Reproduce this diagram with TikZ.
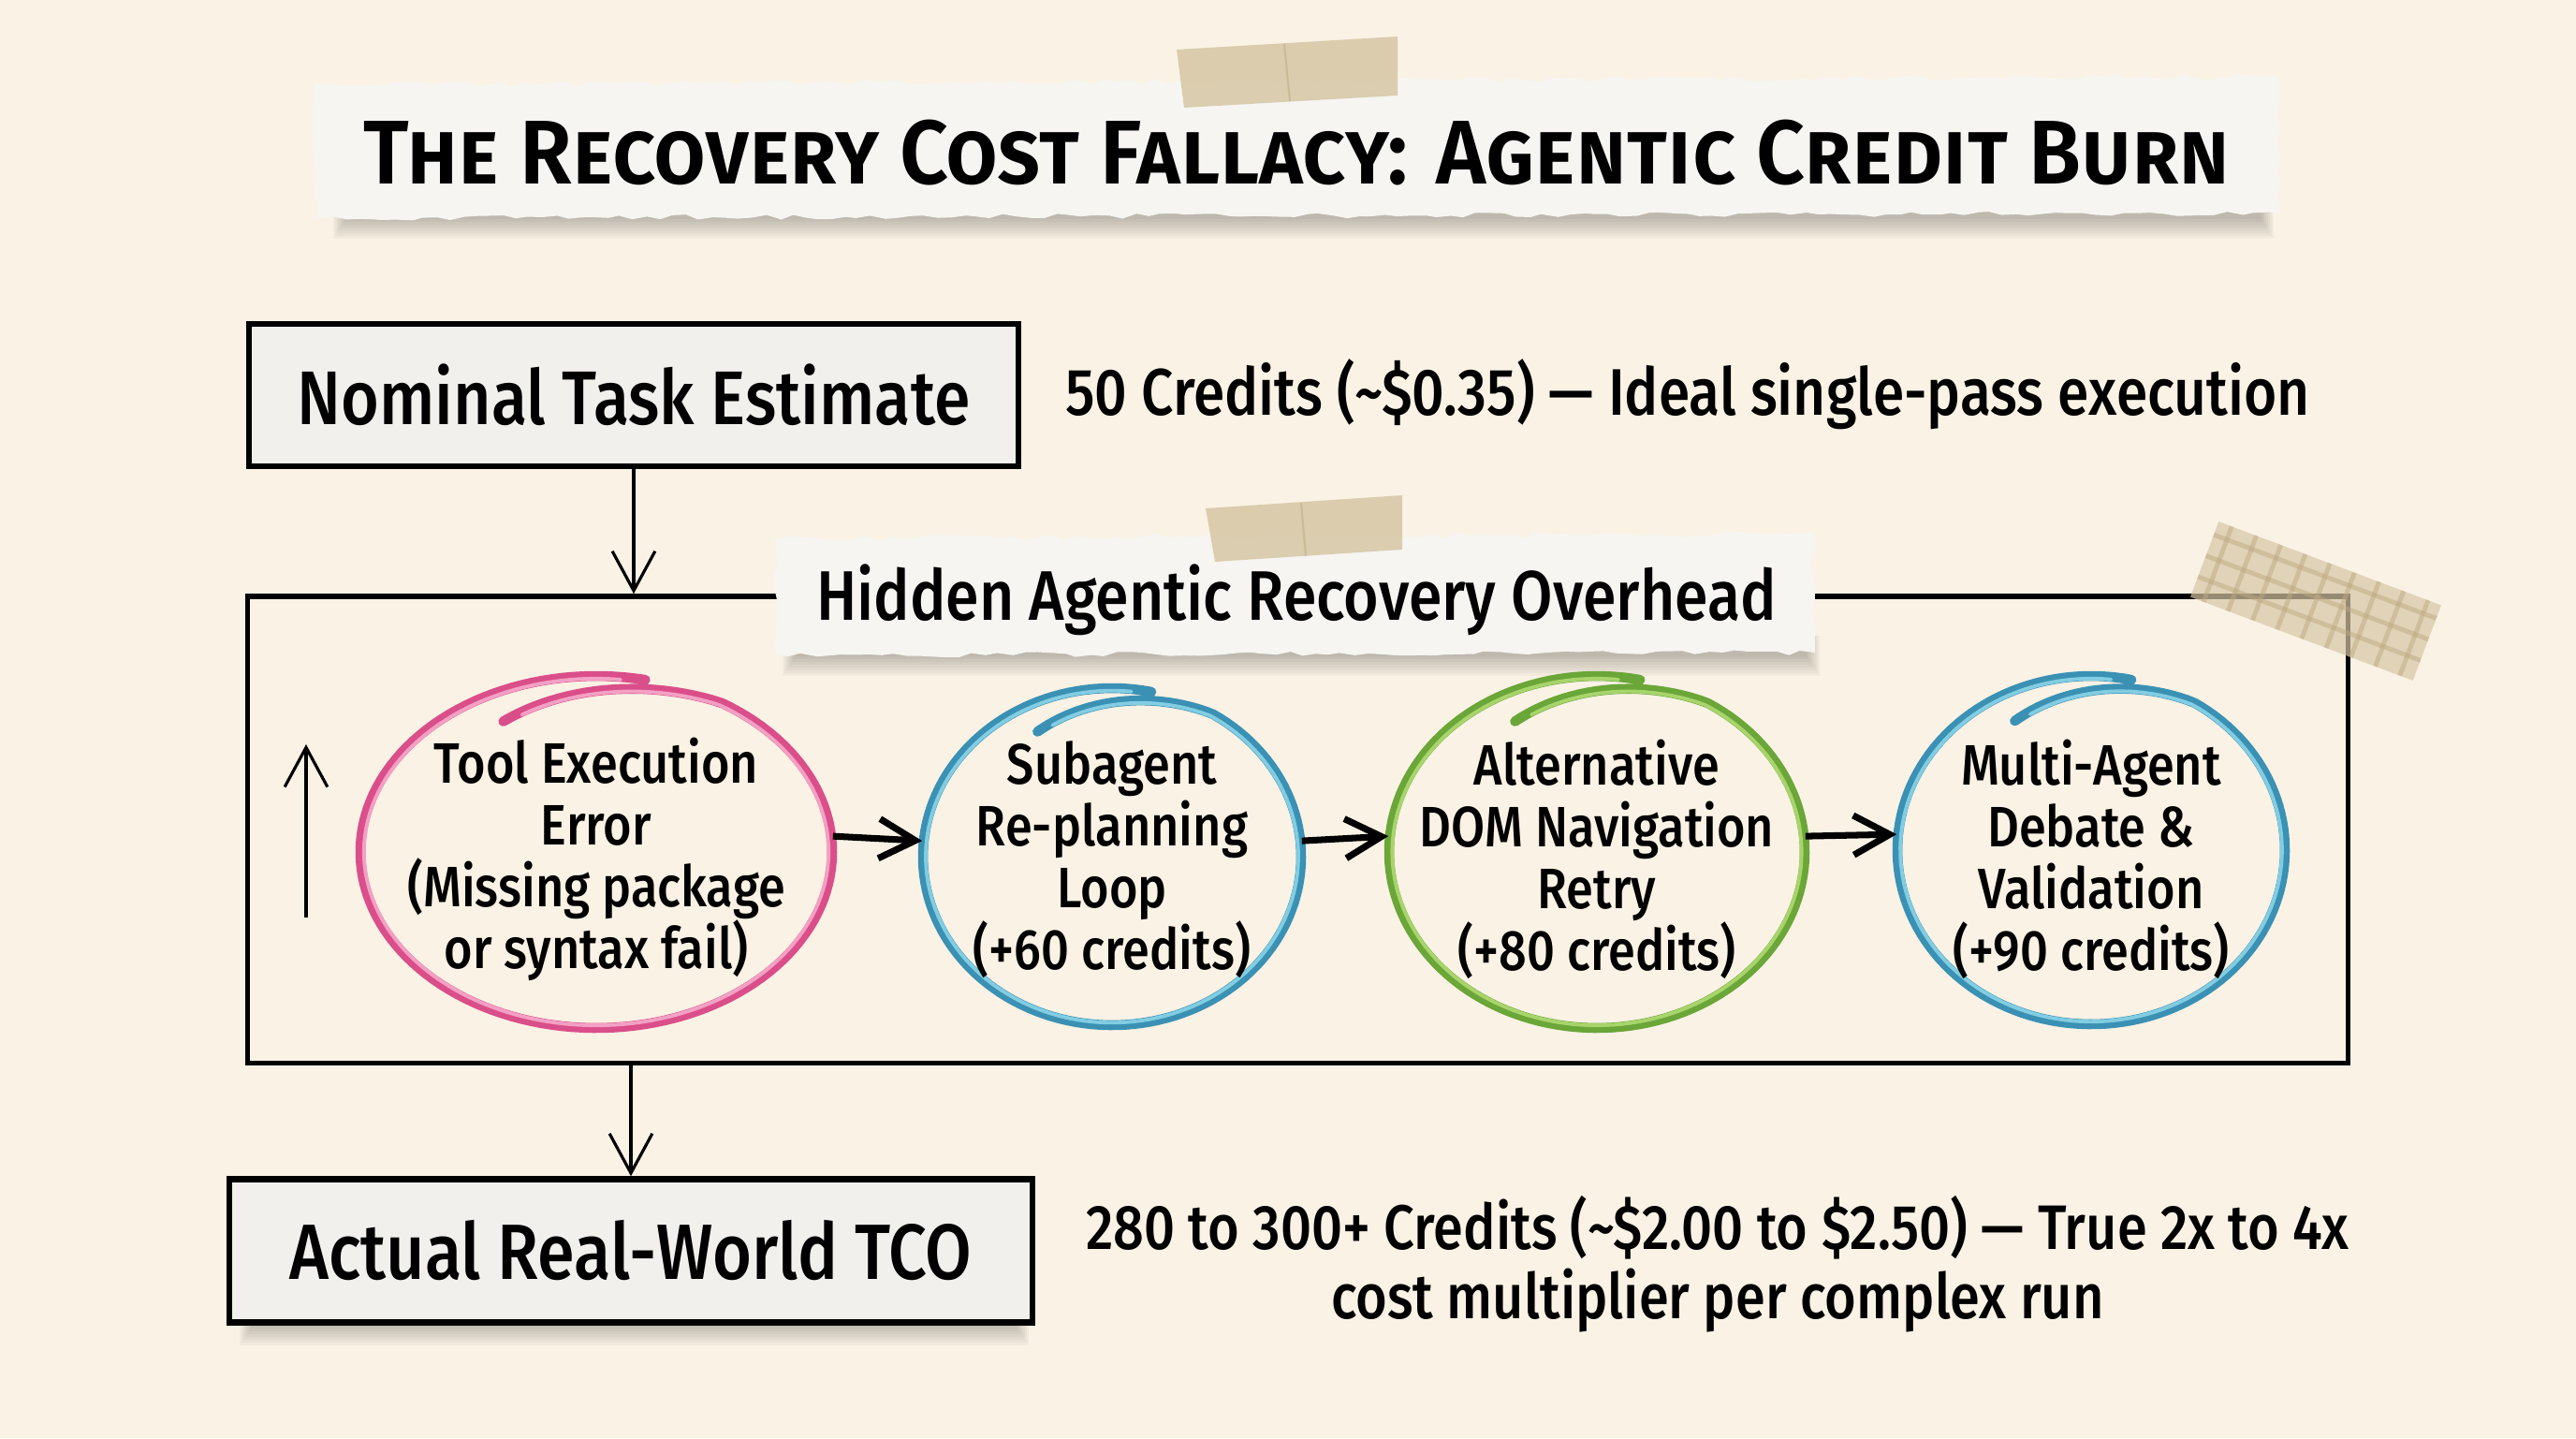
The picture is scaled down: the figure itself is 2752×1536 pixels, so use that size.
\documentclass[tikz,border=0pt]{standalone}
\usepackage{fontspec}
\setmainfont{Fira Sans Medium}[FakeStretch=0.86]
\newfontfamily\heavy{Fira Sans SemiBold}[FakeStretch=0.94]
\usetikzlibrary{arrows.meta,decorations.pathmorphing,shapes.geometric,calc}
\definecolor{bg}{RGB}{250,242,229}
\definecolor{paper}{RGB}{246,245,242}
\definecolor{boxfill}{RGB}{241,240,237}
\definecolor{tape}{RGB}{214,198,165}
\definecolor{tapeline}{RGB}{190,170,130}
\definecolor{pinkD}{RGB}{218,78,138}
\definecolor{pinkL}{RGB}{243,160,196}
\definecolor{blueD}{RGB}{58,145,180}
\definecolor{blueL}{RGB}{130,205,226}
\definecolor{greenD}{RGB}{106,166,56}
\definecolor{greenL}{RGB}{168,212,108}
\newcommand\fTitle{\fontsize{27.5}{32}\selectfont}
\newcommand\fBoxTxt{\fontsize{23.1}{26}\selectfont}
\newcommand\fNote{\fontsize{20}{21.6}\selectfont}
\newcommand\fNoteB{\fontsize{19.1}{21}\selectfont}
\newcommand\fLabel{\fontsize{21.3}{25}\selectfont}
\newcommand\fRing{\fontsize{17.3}{18.8}\selectfont}
\newcommand\fAct{\fontsize{23.8}{28}\selectfont}
\newcommand\handring[6]{%
  \draw[#5, line width=3pt, line cap=round] plot[domain=78:478, samples=160, variable=\t]
    ({#1+#3*(1-0.16*max(0,\t-418)/60)*cos(\t)}, {#2-#4*(1-0.16*max(0,\t-418)/60)*sin(\t)});
  \draw[#6, line width=1.1pt, line cap=round] plot[domain=84:472, samples=160, variable=\t]
    ({#1+#3*(0.985-0.16*max(0,\t-418)/60)*cos(\t)}, {#2-#4*(0.985-0.16*max(0,\t-418)/60)*sin(\t)});
}
\newcommand\papershadow[3]{%
  \foreach \k in {0,...,7}
    \fill[black,opacity=0.03] (#1-\k*2,#3-18) rectangle (#2+\k*2,#3+4+\k*3);
}
\tikzset{
  sketchbox/.style={draw=black, line width=1.8pt, fill=boxfill, inner sep=0pt},
  torn/.style={fill=paper, decorate, decoration={random steps, segment length=4pt, amplitude=0.8pt}},
  ring/.style={ellipse, inner sep=0pt},
  ringtext/.style={font=\fRing, align=center, text=black},
  flow/.style={line width=2pt, -{Straight Barb[length=11pt, width=12pt, line width=2pt]}},
  thinflow/.style={line width=0.9pt, -{Straight Barb[length=12pt, width=13pt, line width=0.9pt]}},
  tapestrip/.style={fill=tape, opacity=0.85},
}
\begin{document}
\begin{tikzpicture}[x=0.01cm,y=-0.01cm]
\fill[bg] (0,0) rectangle (2752,1536);
\useasboundingbox (0,0) rectangle (2752,1536);
\pgfmathsetseed{11}

% ---------- title ----------
\papershadow{370}{2415}{230}
\fill[torn] (335,90) -- (2433,82) -- (2436,228) -- (338,233) -- cycle;
\node[font=\fTitle] (title) at (1386,163) {\heavy\scshape The Recovery Cost Fallacy: Agentic Credit Burn};
\fill[tapestrip] (1257,53) -- (1493,39) -- (1493,102) -- (1265,115) -- cycle;
\draw[tapeline, opacity=0.5, line width=0.6pt] (1372,47) -- (1378,108);

% ---------- nominal ----------
\node[sketchbox, minimum width=8.22cm, minimum height=1.52cm, font=\fBoxTxt] (nom) at (677,422) {Nominal Task Estimate};
\node[font=\fNote] (nomnote) at (1803,421) {50 Credits (\textasciitilde\$0.35) — Ideal single-pass execution};

% ---------- overhead frame ----------
\node[draw=black, line width=1.5pt, minimum width=22.43cm, minimum height=4.98cm, inner sep=0pt] (over) at (1386.5,886) {};
\draw[thinflow] (nom.south) -- (nom.south |- over.north);

% label paper
\papershadow{850}{1930}{697}
\fill[torn] (828,575) -- (1937,570) -- (1939,697) -- (830,700) -- cycle;
\node[font=\fLabel] (overlabel) at (1385,641) {Hidden Agentic Recovery Overhead};
\fill[tapestrip] (1288,543) -- (1498,529) -- (1498,587) -- (1298,600) -- cycle;
\draw[tapeline, opacity=0.5, line width=0.6pt] (1390,537) -- (1395,594);

% corner tape (plaid)
\begin{scope}[shift={(2474,642)}, rotate=-20.6]
  \fill[tape, opacity=0.7] (-127,-43) rectangle (127,43);
  \clip (-127,-43) rectangle (127,43);
  \foreach \u in {-112,-84,...,120}
    \draw[tapeline, line width=1.4pt, opacity=0.5] (\u,-43) -- (\u,43);
  \foreach \v in {-28,-4,20}
    \draw[tapeline, line width=1.4pt, opacity=0.5] (-127,\v) -- (127,\v);
\end{scope}

% ---------- rings ----------
\node[ring, minimum width=5.04cm, minimum height=3.76cm] (c1) at (637,910) {};
\node[ring, minimum width=4.04cm, minimum height=3.60cm] (c2) at (1188,915) {};
\node[ring, minimum width=4.44cm, minimum height=3.76cm] (c3) at (1706,910) {};
\node[ring, minimum width=4.14cm, minimum height=3.72cm] (c4) at (2234,908) {};
\handring{637}{910}{252}{188}{pinkD}{pinkL}
\handring{1188}{915}{202}{180}{blueD}{blueL}
\handring{1706}{910}{222}{188}{greenD}{greenL}
\handring{2234}{908}{207}{186}{blueD}{blueL}
\node[ringtext] (t1) at (637,918) {Tool Execution\\Error\\(Missing package\\or syntax fail)};
\node[ringtext] (t2) at (1188,918) {Subagent\\Re-planning\\Loop\\(+60 credits)};
\node[ringtext] (t3) at (1706,918) {Alternative\\DOM Navigation\\Retry\\(+80 credits)};
\node[ringtext] (t4) at (2234,918) {Multi-Agent\\Debate \&\\Validation\\(+90 credits)};

\draw[flow] ([yshift=4.8pt]c1.east) -- ([yshift=4.8pt]c2.west);
\draw[flow] ([yshift=4.8pt]c2.east) -- ([yshift=4.8pt]c3.west);
\draw[flow] ([yshift=4.8pt]c3.east) -- ([yshift=4.8pt]c4.west);

\coordinate (upfoot) at (327,980);
\coordinate (uphead) at (327,795);
\draw[thinflow] (upfoot) -- (uphead);

% ---------- actual ----------
\papershadow{270}{1085}{1412}
\node[sketchbox, minimum width=8.57cm, minimum height=1.53cm, font=\fAct] (act) at (674,1336) {Actual Real-World TCO};
\draw[thinflow] (act.north |- over.south) -- (act.north);
\node[font=\fNoteB, align=center] (actnote) at (1835,1350) {280 to 300+ Credits (\textasciitilde\$2.00 to \$2.50) — True 2x to 4x\\cost multiplier per complex run};
\end{tikzpicture}
\end{document}
